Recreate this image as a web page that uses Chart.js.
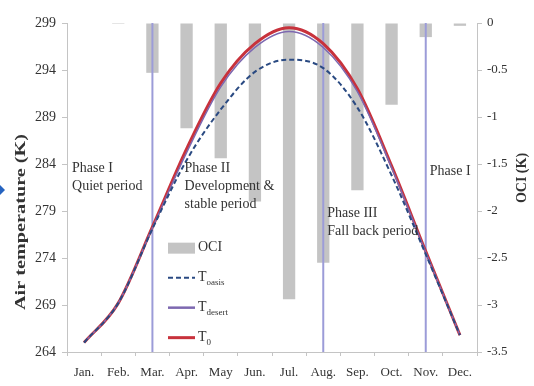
<!DOCTYPE html>
<html>
<head>
<meta charset="utf-8">
<script src="https://cdn.jsdelivr.net/npm/chart.js@4.4.0/dist/chart.umd.min.js"></script>
<style>
html, body { margin: 0; padding: 0; background: #fff; }
#wrap { width: 534px; height: 386px; }
</style>
</head>
<body>
<div id="wrap"><canvas id="chart" width="534" height="386"></canvas></div>
<script>
// Data
const months = ['Jan.', 'Feb.', 'Mar.', 'Apr.', 'May', 'Jun.', 'Jul.', 'Aug.', 'Sep.', 'Oct.', 'Nov.', 'Dec.'];
const oci = [0, -0.01, -0.53, -1.12, -1.44, -1.9, -2.94, -2.55, -1.78, -0.87, -0.15, -0.03];
const t0 = [265.0, 269.2, 277.3, 285.6, 292.6, 296.8, 298.5, 296.8, 292.0, 283.8, 274.7, 265.8];
const tDesert = [265.0, 269.2, 277.2, 285.2, 292.2, 296.4, 298.1, 296.4, 291.7, 283.6, 274.6, 265.8];
const tOasis = [265.0, 269.2, 277.1, 284.4, 289.8, 293.8, 295.1, 294.2, 290.0, 282.8, 274.4, 265.8];
const phaseMonths = ['Mar.', 'Aug.', 'Nov.'];

// Phase labels: month anchor, pixel nudge, temperature of first line
const phaseLabels = [
    { month: 'Jan.', dx: -12, temp: 283.5, lines: ['Phase I', 'Quiet period'] },
    { month: 'Apr.', dx: -2, temp: 283.5, lines: ['Phase II', 'Development &', 'stable period'] },
    { month: 'Aug.', dx: 4, temp: 278.7, lines: ['Phase III', 'Fall back period'] },
    { month: 'Nov.', dx: 4, temp: 283.2, lines: ['Phase I'] }
];

const colors = {
    bar: '#c4c4c4',
    t0: '#c8323c',
    desert: '#7d68b0',
    oasis: '#2a4a82',
    phase: '#9c9cd8',
    axis: '#c4c4c4',
    text: '#333333'
};

const serif = '"Liberation Serif", "Times New Roman", serif';
Chart.defaults.font.family = serif;
Chart.defaults.color = colors.text;

// T with subscript
function drawSubT(ctx, x, y, sub) {
    ctx.font = '14px ' + serif;
    ctx.fillText('T', x, y);
    const w = ctx.measureText('T').width;
    ctx.font = '9px ' + serif;
    ctx.fillText(sub, x + w, y + 5);
}

const decorPlugin = {
    id: 'decor',
    afterDatasetDraw(chart, args) {
        if (args.index !== 0) return;
        const { ctx, chartArea, scales } = chart;
        ctx.save();
        ctx.strokeStyle = colors.phase;
        ctx.lineWidth = 2;
        phaseMonths.forEach(m => {
            const x = scales.x.getPixelForValue(months.indexOf(m));
            ctx.beginPath();
            ctx.moveTo(x, chartArea.top);
            ctx.lineTo(x, chartArea.bottom);
            ctx.stroke();
        });
        ctx.restore();
    },
    afterDraw(chart) {
        const { ctx, chartArea, scales } = chart;
        ctx.save();
        ctx.fillStyle = colors.text;
        ctx.textBaseline = 'middle';

        // phase text
        ctx.font = '14px ' + serif;
        ctx.textAlign = 'left';
        phaseLabels.forEach(p => {
            const x = scales.x.getPixelForValue(months.indexOf(p.month)) + p.dx;
            const y0 = scales.y.getPixelForValue(p.temp);
            p.lines.forEach((line, i) => ctx.fillText(line, x, y0 + i * 18));
        });

        // axis titles
        ctx.font = 'bold 14px ' + serif;
        ctx.textAlign = 'center';
        const leftTitle = 'Air temperature (K)';
        const lw = ctx.measureText(leftTitle).width;
        ctx.save();
        ctx.translate(21, 222);
        ctx.rotate(-Math.PI / 2);
        ctx.scale(176 / lw, 1);
        ctx.fillText(leftTitle, 0, 0);
        ctx.restore();

        ctx.save();
        ctx.translate(522, 178);
        ctx.rotate(-Math.PI / 2);
        ctx.fillText('OCI (K)', 0, 0);
        ctx.restore();

        // legend
        const lx = chartArea.left + 101;
        const ly = scales.y.getPixelForValue(275.1);
        ctx.textAlign = 'left';
        ctx.fillStyle = colors.bar;
        ctx.fillRect(lx, ly - 5, 27, 11);
        ctx.fillStyle = colors.text;
        ctx.font = '14px ' + serif;
        ctx.fillText('OCI', lx + 30, ly);

        const lineItems = [
            { sub: 'oasis', color: colors.oasis, width: 2, dash: [5, 3] },
            { sub: 'desert', color: colors.desert, width: 2.5, dash: [] },
            { sub: '0', color: colors.t0, width: 3, dash: [] }
        ];
        lineItems.forEach((it, i) => {
            const y = ly + 30 * (i + 1);
            ctx.strokeStyle = it.color;
            ctx.lineWidth = it.width;
            ctx.setLineDash(it.dash);
            ctx.beginPath();
            ctx.moveTo(lx, y);
            ctx.lineTo(lx + 27, y);
            ctx.stroke();
            ctx.setLineDash([]);
            ctx.fillStyle = colors.text;
            drawSubT(ctx, lx + 30, y, it.sub);
        });

        // slide marker at the left edge
        ctx.fillStyle = '#2563c0';
        ctx.beginPath();
        ctx.moveTo(0, 185);
        ctx.lineTo(5, 190);
        ctx.lineTo(0, 195);
        ctx.closePath();
        ctx.fill();
        ctx.restore();
    }
};

const ctx = document.getElementById('chart').getContext('2d');
new Chart(ctx, {
    type: 'bar',
    data: {
        labels: months,
        datasets: [
            {
                type: 'bar',
                label: 'OCI',
                data: oci,
                yAxisID: 'y1',
                backgroundColor: colors.bar,
                barPercentage: 0.36,
                categoryPercentage: 1,
                order: 4
            },
            {
                type: 'line',
                label: 'T0',
                data: t0,
                yAxisID: 'y',
                borderColor: colors.t0,
                borderWidth: 3,
                pointRadius: 0,
                cubicInterpolationMode: 'monotone',
                order: 3
            },
            {
                type: 'line',
                label: 'Tdesert',
                data: tDesert,
                yAxisID: 'y',
                borderColor: colors.desert,
                borderWidth: 1.5,
                pointRadius: 0,
                cubicInterpolationMode: 'monotone',
                order: 2
            },
            {
                type: 'line',
                label: 'Toasis',
                data: tOasis,
                yAxisID: 'y',
                borderColor: colors.oasis,
                borderWidth: 2,
                borderDash: [5, 3],
                pointRadius: 0,
                cubicInterpolationMode: 'monotone',
                order: 1
            }
        ]
    },
    options: {
        responsive: false,
        devicePixelRatio: 1,
        animation: false,
        layout: { padding: { top: 23, left: 0, right: 0, bottom: 0 } },
        plugins: {
            legend: { display: false },
            tooltip: { enabled: false }
        },
        scales: {
            x: {
                offset: true,
                grid: { display: true, drawOnChartArea: false, offset: true, tickLength: 4, color: colors.axis },
                border: { color: colors.axis },
                ticks: { font: { size: 13 }, color: colors.text, padding: 9, maxRotation: 0, autoSkip: false },
                afterFit: s => { s.height = 34; }
            },
            y: {
                position: 'left',
                min: 264,
                max: 299,
                grid: { drawOnChartArea: false, tickLength: 5, color: colors.axis },
                border: { color: colors.axis },
                ticks: { stepSize: 5, font: { size: 14 }, color: colors.text, padding: 6 },
                afterFit: s => { s.width = 67; }
            },
            y1: {
                position: 'right',
                min: -3.5,
                max: 0,
                grid: { drawOnChartArea: false, tickLength: 5, color: colors.axis },
                border: { color: colors.axis },
                ticks: {
                    stepSize: 0.5,
                    font: { size: 13 },
                    color: colors.text,
                    padding: 5,
                    callback: v => String(Math.round(v * 10) / 10)
                },
                afterFit: s => { s.width = 57; }
            }
        }
    },
    plugins: [decorPlugin]
});
</script>
</body>
</html>
